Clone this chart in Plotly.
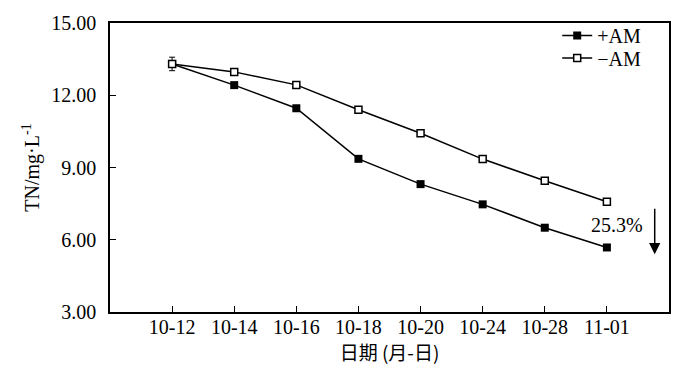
import plotly.graph_objects as go

dates = ["10-12", "10-14", "10-16", "10-18", "10-20", "10-24", "10-28", "11-01"]
plus_am = [13.3, 12.42, 11.46, 9.36, 8.31, 7.47, 6.5, 5.68]
minus_am = [13.3, 12.97, 12.43, 11.4, 10.42, 9.35, 8.45, 7.58]
err_plus = [0.28, 0, 0, 0, 0, 0, 0, 0]
y_ticks = [3, 6, 9, 12, 15]

xi = list(range(len(dates)))
font = "Liberation Serif, Times New Roman, serif"

fig = go.Figure()
fig.add_trace(go.Scatter(
    x=xi, y=plus_am, name="+AM", mode="lines+markers", legend="legend",
    line=dict(color="black", width=1.5),
    marker=dict(symbol="square", size=8, color="black"),
    error_y=dict(type="data", array=err_plus, color="black", thickness=1, width=3),
))
fig.add_trace(go.Scatter(
    x=xi, y=minus_am, name="\u2212AM", mode="lines+markers", legend="legend2",
    line=dict(color="black", width=1.5),
    marker=dict(symbol="square", size=7, color="white", line=dict(color="black", width=1.5)),
))

fig.add_annotation(x=7.16, y=6.62, xref="x", yref="y", text="25.3%", showarrow=False,
                   xanchor="center", yanchor="middle", font=dict(family=font, size=20, color="black"))
fig.add_annotation(x=7.77, y=5.4, ax=7.77, ay=7.35, xref="x", yref="y", axref="x", ayref="y",
                   text="", showarrow=True, arrowhead=2, arrowsize=1.5, arrowwidth=1.5,
                   arrowcolor="black")

leg = dict(xanchor="left", yanchor="middle", bgcolor="rgba(0,0,0,0)",
           font=dict(family=font, size=20), itemwidth=30)
fig.update_layout(
    width=700, height=376,
    margin=dict(l=110, r=31, t=14, b=64),
    paper_bgcolor="white", plot_bgcolor="white",
    font=dict(family=font, size=20, color="black"),
    showlegend=True,
    legend=dict(x=0.8, y=0.957, **leg),
    legend2=dict(x=0.8, y=0.879, **leg),
)
fig.update_xaxes(
    range=[-1, 8], tickmode="array", tickvals=xi, ticktext=dates,
    showline=True, linecolor="black", linewidth=1.5, mirror=True,
    ticks="inside", ticklen=6, tickcolor="black", showgrid=False, zeroline=False,
    tickfont=dict(family=font, size=20), ticklabelstandoff=-4,
    title=dict(text="日期 (月-日)", font=dict(family="Noto Sans CJK SC, " + font, size=19), standoff=10),
)
fig.update_yaxes(
    range=[3, 15], tickmode="array", tickvals=y_ticks, ticktext=[f"{v:.2f}" for v in y_ticks],
    showline=True, linecolor="black", linewidth=1.5, mirror=True,
    ticks="inside", ticklen=6, tickcolor="black", showgrid=False, zeroline=False,
    tickfont=dict(family=font, size=20), ticklabelstandoff=8,
    title=dict(text="TN/mg·L<sup>-1</sup>", font=dict(family=font, size=20), standoff=6),
)

fig.write_html("out.html", config={"displayModeBar": False},
               post_script="document.body.style.margin='0';")
